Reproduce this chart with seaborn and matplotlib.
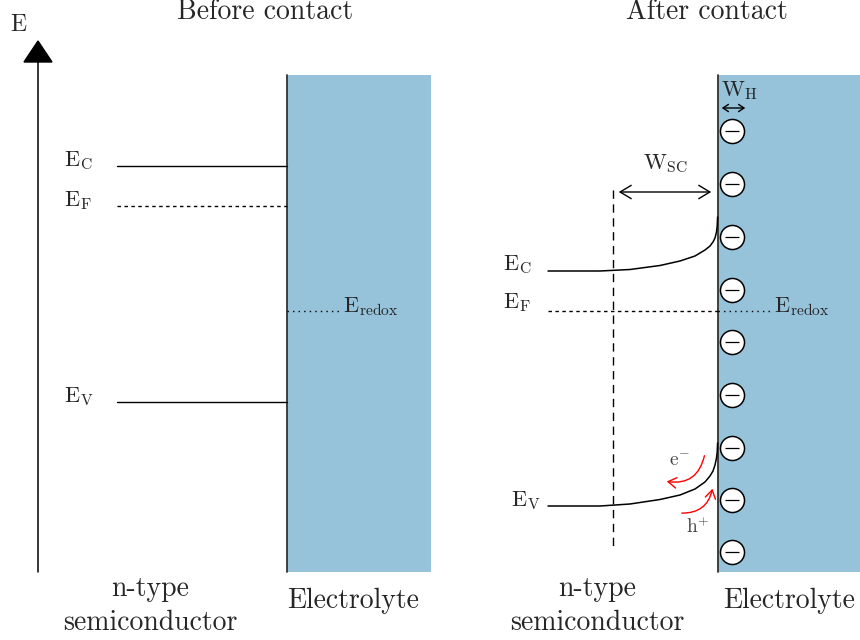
import matplotlib
matplotlib.use("Agg")
import matplotlib.pyplot as plt
import seaborn as sns
import pandas as pd
from matplotlib.patches import Rectangle, Polygon, FancyArrowPatch

sns.set_theme(style="white")
plt.rcParams["mathtext.fontset"] = "cm"
plt.rcParams["font.family"] = ["cmr10", "DejaVu Serif"]

# ---------------- data (pixel units, y down) ----------------
titles = ["Before contact", "After contact"]
title_x = [265, 707]

left_level_names = [r"$\mathrm{E_C}$", r"$\mathrm{E_F}$", r"$\mathrm{E_V}$"]
left_level_y = [166, 206, 402]
left_level_style = ["solid", "dashed", "solid"]
redox_y = 311

ec_curve_x = [548, 600, 630, 660, 680, 695, 705, 710, 713, 715, 716.5, 717.2, 717.6]
ec_curve_y = [271, 271, 269.5, 265.5, 261, 256, 250, 246, 242, 238, 232, 226, 217]
ev_curve_x = [548, 600, 630, 660, 680, 695, 705, 710, 713, 715, 716.5, 717.2, 717.6]
ev_curve_y = [506, 506, 504, 499.5, 495, 489, 482, 476, 471, 465, 458, 452, 443]

ion_y = [131, 184, 237, 290, 342, 395, 448, 500, 552]

fig = plt.figure(figsize=(8.6, 6.4), dpi=100)
ax = fig.add_axes([0, 0, 1, 1])
ax.set_xlim(0, 860)
ax.set_ylim(640, 0)
ax.axis("off")

blue = "#96c3da"
fs = 20     # plain text
fl = 16     # level labels

# titles
for t, x in zip(titles, title_x):
    ax.text(x, 12, t, ha="center", va="center", fontsize=fs)

# ---------------- left panel ----------------
ax.plot([38, 38], [572, 58], color="black", lw=1.1)
ax.add_patch(Polygon([[38, 41], [24, 62], [52, 62]], closed=True, color="black"))
ax.text(19, 25, r"$\mathrm{E}$", ha="center", va="center", fontsize=fl + 1)

ax.add_patch(Rectangle((287, 75), 144, 497, facecolor=blue, edgecolor="none"))
ax.plot([287, 287], [75, 572], color="#333333", lw=1.3)

for name, y, st in zip(left_level_names, left_level_y, left_level_style):
    df = pd.DataFrame({"x": [117, 287], "y": [y, y]})
    if st == "solid":
        sns.lineplot(data=df, x="x", y="y", ax=ax, color="black", lw=1.0)
    else:
        sns.lineplot(data=df, x="x", y="y", ax=ax, color="black", lw=1.0,
                     linestyle=(0, (2.5, 2.5)))
    ax.text(64, y - 5, name, ha="left", va="center", fontsize=fl)

ax.plot([287, 340], [redox_y, redox_y], color="black", lw=1.0, linestyle=(0, (1, 3)))
ax.text(343, redox_y - 4, r"$\mathrm{E_{redox}}$", ha="left", va="center", fontsize=fl)

ax.text(150, 589, "n-type", ha="center", va="center", fontsize=fs)
ax.text(150, 623, "semiconductor", ha="center", va="center", fontsize=fs)
ax.text(353, 601, "Electrolyte", ha="center", va="center", fontsize=fs)

# ---------------- right panel ----------------
ax.add_patch(Rectangle((718, 75), 142, 497, facecolor=blue, edgecolor="none"))
ax.plot([718, 718], [75, 572], color="#333333", lw=1.3)

# space-charge boundary
ax.plot([613, 613], [190, 548], color="black", lw=1.0, linestyle=(0, (6, 4)))

# bent bands
sns.lineplot(x=ec_curve_x, y=ec_curve_y, ax=ax, color="black", lw=1.1,
             sort=False, estimator=None)
sns.lineplot(x=ev_curve_x, y=ev_curve_y, ax=ax, color="black", lw=1.1,
             sort=False, estimator=None)

# Fermi level / redox
ax.plot([548, 718], [redox_y, redox_y], color="black", lw=1.0, linestyle=(0, (2.5, 2.5)))
ax.plot([718, 770], [redox_y, redox_y], color="black", lw=1.0, linestyle=(0, (1, 3)))
ax.text(774, redox_y - 4, r"$\mathrm{E_{redox}}$", ha="left", va="center", fontsize=fl)

ax.text(503, ec_curve_y[0] - 6, r"$\mathrm{E_C}$", ha="left", va="center", fontsize=fl)
ax.text(503, redox_y - 8, r"$\mathrm{E_F}$", ha="left", va="center", fontsize=fl)
ax.text(511, ev_curve_y[0] - 5, r"$\mathrm{E_V}$", ha="left", va="center", fontsize=fl)

# W_SC
ax.add_patch(FancyArrowPatch((616, 192), (714, 192), arrowstyle="<->,head_length=5,head_width=3",
                             mutation_scale=1.6, color="black", lw=1.0))
ax.text(665, 164, r"$\mathrm{W_{SC}}$", ha="center", va="center", fontsize=fl)

# W_H
ax.add_patch(FancyArrowPatch((719, 108), (748, 108), arrowstyle="<->,head_length=3,head_width=2",
                             mutation_scale=1.3, color="black", lw=1.0))
ax.text(721, 91, r"$\mathrm{W_H}$", ha="left", va="center", fontsize=fl)

# adsorbed ions
ion_x = [731.5] * len(ion_y)
sns.scatterplot(x=ion_x, y=ion_y, ax=ax, s=300, color="white", edgecolor="black",
                linewidth=1.1, zorder=5)
sns.scatterplot(x=ion_x, y=ion_y, ax=ax, s=90, marker="_", color="black",
                linewidth=0.9, zorder=6)

# charge transfer arrows
ax.add_patch(FancyArrowPatch((705, 453), (664, 481), connectionstyle="arc3,rad=-0.5",
                             arrowstyle="->,head_length=4,head_width=2.5", mutation_scale=1.5,
                             color="red", lw=1.0))
ax.add_patch(FancyArrowPatch((679, 513), (713, 486), connectionstyle="arc3,rad=0.45",
                             arrowstyle="->,head_length=4,head_width=2.5", mutation_scale=1.5,
                             color="red", lw=1.0))
ax.text(679, 461, r"$\mathrm{e^{-}}$", ha="center", va="center", fontsize=14, color="#444444")
ax.text(698, 527, r"$\mathrm{h^{+}}$", ha="center", va="center", fontsize=14, color="#444444")

ax.text(597, 589, "n-type", ha="center", va="center", fontsize=fs)
ax.text(597, 623, "semiconductor", ha="center", va="center", fontsize=fs)
ax.text(789, 601, "Electrolyte", ha="center", va="center", fontsize=fs)

if ax.get_legend() is not None:
    ax.get_legend().remove()

fig.savefig("out.png", dpi=100)
